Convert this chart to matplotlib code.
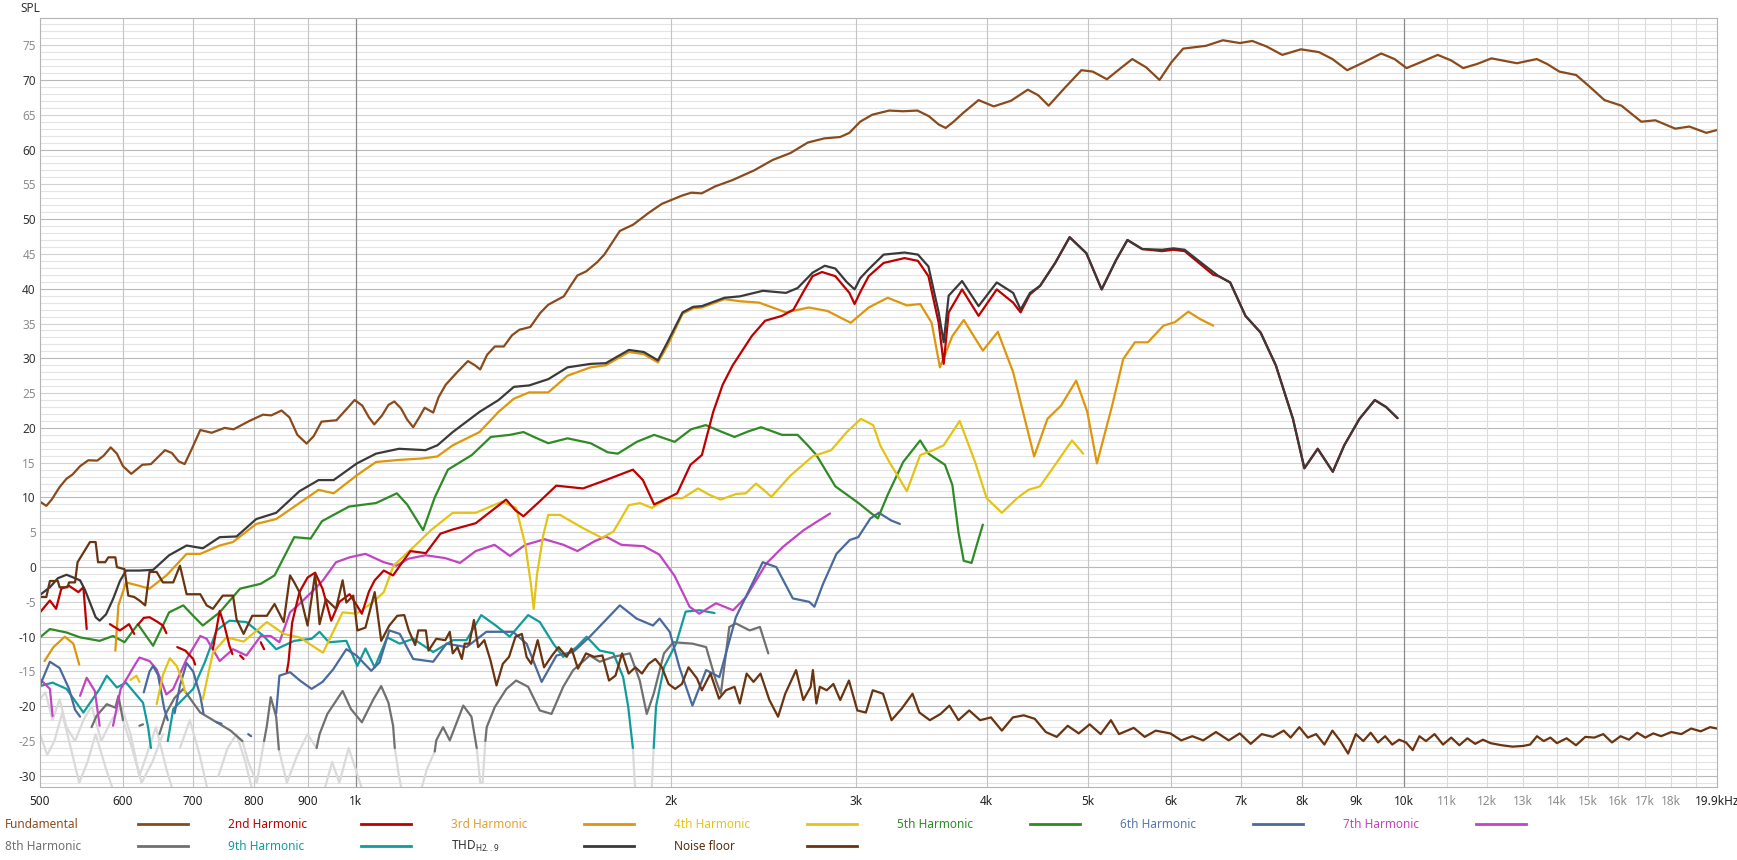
import numpy as np
import matplotlib.pyplot as plt
from matplotlib.lines import Line2D

nan = np.nan

# (frequency Hz, SPL dB) pairs
fundamental = [
    (500, 9.4), (507, 8.8), (513, 9.7), (522, 11.5), (530, 12.7), (537, 13.3), (546, 14.5),
    (556, 15.35), (567, 15.3), (575, 16.0), (584, 17.2), (592, 16.3), (600, 14.5), (611, 13.4),
    (626, 14.7), (638, 14.8), (648, 15.8), (658, 16.8), (668, 16.4), (678, 15.2), (687, 14.8),
    (698, 17.0), (711, 19.7), (729, 19.3), (750, 20.0), (765, 19.8), (792, 21.0), (816, 21.9),
    (831, 21.8), (850, 22.5), (865, 21.5), (880, 19.0), (898, 17.75), (912, 18.8), (928, 20.9),
    (959, 21.1), (975, 22.3), (998, 24.0), (1015, 23.2), (1030, 21.5), (1042, 20.5), (1060, 21.8),
    (1075, 23.3), (1089, 23.8), (1105, 22.8), (1120, 21.2), (1135, 20.1), (1150, 21.5),
    (1164, 22.9), (1186, 22.2), (1200, 24.4), (1219, 26.2), (1250, 28.0), (1280, 29.6),
    (1300, 29.0), (1315, 28.4), (1335, 30.5), (1358, 31.7), (1385, 31.7), (1410, 33.3),
    (1433, 34.1), (1468, 34.5), (1500, 36.5), (1527, 37.7), (1580, 38.9), (1605, 40.5),
    (1628, 41.9), (1660, 42.5), (1700, 43.8), (1727, 44.9), (1760, 46.8), (1787, 48.3),
    (1840, 49.2), (1904, 50.9), (1960, 52.2), (1990, 52.6), (2050, 53.4), (2091, 53.8),
    (2139, 53.7), (2203, 54.7), (2288, 55.6), (2400, 57.0), (2500, 58.5), (2600, 59.5),
    (2700, 61.0), (2800, 61.6), (2900, 61.8), (2959, 62.4), (3030, 64.0), (3111, 65.0),
    (3229, 65.6), (3331, 65.5), (3436, 65.6), (3523, 64.8), (3600, 63.6), (3656, 63.1),
    (3720, 64.0), (3795, 65.2), (3930, 67.1), (4063, 66.2), (4219, 67.0), (4379, 68.6),
    (4480, 67.8), (4584, 66.3), (4745, 68.8), (4926, 71.4), (5050, 71.2), (5210, 70.1),
    (5350, 71.5), (5508, 73.0), (5680, 71.8), (5848, 70.0), (6000, 72.5), (6160, 74.5),
    (6474, 74.9), (6721, 75.7), (6976, 75.3), (7170, 75.6), (7400, 74.8), (7658, 73.6),
    (7977, 74.4), (8299, 74.0), (8550, 73.0), (8831, 71.4), (9150, 72.5), (9517, 73.8),
    (9800, 73.0), (10062, 71.7), (10400, 72.6), (10775, 73.6), (11100, 72.8), (11394, 71.7),
    (11750, 72.3), (12126, 73.1), (12822, 72.4), (13392, 73.0), (13700, 72.3), (14075, 71.2),
    (14606, 70.7), (15000, 69.2), (15542, 67.1), (16133, 66.3), (16851, 64.0), (17378, 64.2),
    (18155, 63.0), (18726, 63.3), (19437, 62.4), (19900, 62.8),
]

thd = [
    (500, -4.0), (511, -2.9), (520, -1.6), (530, -1.1), (538, -1.5), (546, -1.9), (552, -3.3),
    (558, -5.1), (565, -7.2), (570, -7.7), (578, -6.8), (587, -4.6), (596, -2.0), (604, -0.5),
    (622, -0.5), (641, -0.4), (664, 1.7), (690, 3.1), (715, 2.7), (742, 4.3), (770, 4.4),
    (804, 6.9), (840, 7.8), (884, 10.9), (922, 12.5), (953, 12.5), (1003, 14.9), (1046, 16.3),
    (1100, 17.0), (1166, 16.8), (1197, 17.5), (1238, 19.4), (1313, 22.3), (1369, 24.0),
    (1416, 25.9), (1464, 26.1), (1527, 27.0), (1593, 28.7), (1676, 29.2), (1733, 29.3),
    (1823, 31.2), (1884, 30.9), (1943, 29.7), (1984, 32.3), (2051, 36.6), (2100, 37.4),
    (2140, 37.5), (2249, 38.7), (2326, 38.9), (2447, 39.7), (2574, 39.4), (2641, 40.1),
    (2729, 42.3), (2803, 43.3), (2869, 42.9), (2940, 41.0), (2993, 39.9), (3030, 41.5),
    (3087, 42.8), (3190, 44.9), (3340, 45.2), (3440, 44.9), (3520, 43.2), (3600, 36.6),
    (3640, 32.3), (3680, 39.0), (3790, 41.1), (3930, 37.5), (4090, 40.9), (4240, 39.4),
    (4310, 37.0), (4400, 39.4), (4498, 40.4), (4650, 43.7), (4800, 47.4), (4980, 45.1),
    (5150, 39.9), (5315, 44.1), (5450, 47.0), (5630, 45.7), (5880, 45.6), (6030, 45.8),
    (6180, 45.6), (6400, 43.8), (6580, 42.4), (6660, 41.8), (6830, 40.9), (7063, 36.1),
    (7302, 33.7), (7550, 29.0), (7840, 21.3), (8039, 14.2), (8278, 17.0), (8557, 13.7),
    (8775, 17.5), (9073, 21.3), (9384, 24.0), (9620, 23.0), (9865, 21.4),
]

h2 = [
    (500, -6.5), (511, -4.8), (518, -6.0), (524, -3.1), (533, -2.7), (544, -3.6), (550, -2.9),
    (554, -8.9), (nan, nan),
    (583, -8.2), (596, -9.1), (608, -8.2), (615, -9.6), (nan, nan),
    (620, -8.3), (628, -7.3), (636, -7.2), (646, -7.8), (655, -8.4), (660, -9.5), (nan, nan),
    (676, -11.5), (688, -12.0), (700, -13.2), (703, -14.0), (nan, nan),
    (731, -11.8), (742, -6.3), (750, -8.5), (758, -11.3), (763, -12.5), (nan, nan),
    (776, -12.7), (782, -13.2), (nan, nan), (812, -10.8), (818, -11.8), (nan, nan),
    (860, -15.0), (863, -13.7), (870, -8.0), (884, -3.6), (900, -1.5), (915, -0.8), (930, -3.1),
    (948, -7.7), (965, -5.0), (987, -3.9), (1000, -5.2), (1014, -6.7), (1030, -3.5),
    (1043, -1.9), (1064, -0.5), (1086, -1.2), (1100, 0.0), (1128, 2.3), (1167, 2.0),
    (1205, 4.8), (1238, 5.4), (1302, 6.3), (1392, 9.7), (1420, 8.2), (1446, 7.3), (1500, 9.5),
    (1554, 11.7), (1648, 11.3), (1733, 12.5), (1839, 14.0), (1880, 12.5), (1927, 9.0),
    (1984, 9.9), (2027, 10.6), (2087, 14.7), (2140, 16.1), (2194, 22.3), (2240, 26.2),
    (2289, 28.95), (2388, 33.2), (2459, 35.4), (2552, 36.1), (2617, 37.0), (2680, 39.8),
    (2729, 41.8), (2786, 42.4), (2869, 41.8), (2959, 39.4), (2993, 37.8), (3030, 39.5),
    (3087, 41.8), (3190, 43.7), (3340, 44.4), (3440, 44.0), (3520, 41.8), (3600, 35.1),
    (3640, 29.2), (3680, 36.6), (3790, 39.9), (3930, 36.1), (4090, 39.9), (4240, 38.0),
    (4310, 36.6), (4400, 39.2), (4498, 40.4), (4650, 43.7), (4800, 47.4), (4980, 45.1),
    (5150, 39.9), (5315, 44.1), (5450, 47.0), (5630, 45.7), (5880, 45.4), (6030, 45.6),
    (6180, 45.4), (6400, 43.5), (6580, 42.0), (6660, 41.8), (6830, 40.9), (7063, 36.1),
    (7302, 33.7), (7550, 29.0), (7840, 21.3), (8039, 14.2), (8278, 17.0), (8557, 13.7),
    (8775, 17.5), (9073, 21.3), (9384, 24.0), (9620, 23.0), (9865, 21.4),
]

h3 = [
    (505, -13.5), (515, -11.5), (528, -10.0), (538, -11.0), (545, -14.0), (nan, nan),
    (590, -12.0), (594, -5.5), (604, -2.2), (622, -2.7), (636, -3.1), (660, -1.2), (690, 1.9),
    (711, 1.9), (742, 3.1), (764, 3.6), (804, 6.2), (840, 6.9), (884, 9.2), (922, 11.1),
    (953, 10.6), (1003, 13.2), (1046, 15.1), (1100, 15.4), (1157, 15.6), (1197, 15.9),
    (1238, 17.5), (1313, 19.4), (1369, 22.3), (1416, 24.2), (1464, 25.1), (1527, 25.1),
    (1593, 27.5), (1676, 28.7), (1733, 29.0), (1823, 30.9), (1884, 30.6), (1943, 29.4),
    (1984, 31.8), (2051, 36.4), (2100, 37.2), (2140, 37.3), (2249, 38.5), (2326, 38.2),
    (2427, 38.0), (2574, 36.6), (2707, 37.3), (2820, 36.8), (2968, 35.1), (3087, 37.3),
    (3219, 38.7), (3357, 37.6), (3457, 37.8), (3545, 35.1), (3610, 28.7), (3710, 33.2),
    (3804, 35.5), (3967, 31.1), (4100, 33.8), (4240, 28.0), (4440, 15.9), (4572, 21.3),
    (4710, 23.2), (4870, 26.8), (4990, 22.3), (5097, 14.9), (5270, 23.2), (5400, 29.9),
    (5540, 32.3), (5700, 32.3), (5900, 34.7), (6050, 35.2), (6230, 36.7), (6400, 35.6),
    (6580, 34.7),
]

h4 = [
    (610, -16.2), (618, -15.6), (622, -16.5), (nan, nan),
    (646, -19.7), (655, -15.5), (665, -13.1), (675, -14.2), (683, -16.1), (688, -18.0), (nan, nan),
    (715, -19.0), (722, -16.0), (731, -12.3), (753, -10.1), (782, -10.7), (823, -7.9),
    (854, -9.6), (884, -10.1), (931, -12.3), (972, -6.5), (1002, -6.7), (1040, -5.0),
    (1064, -3.6), (1087, 0.2), (1140, 3.1), (1180, 5.3), (1238, 7.8), (1302, 7.8), (1380, 9.4),
    (1423, 8.5), (1452, 3.2), (1470, -2.5), (1479, -6.0), (1490, -1.0), (1510, 4.5),
    (1527, 7.5), (1567, 7.5), (1648, 5.6), (1718, 4.2), (1762, 5.1), (1823, 8.9), (1868, 9.2),
    (1917, 8.5), (1984, 9.9), (2051, 9.9), (2122, 11.3), (2174, 10.4), (2230, 9.7),
    (2307, 10.5), (2357, 10.6), (2410, 12.0), (2455, 11.0), (2493, 10.1), (2602, 13.2),
    (2729, 15.9), (2843, 16.8), (2942, 19.4), (3035, 21.3), (3118, 20.4), (3166, 17.5),
    (3233, 15.0), (3300, 12.8), (3357, 10.9), (3457, 16.1), (3558, 16.8), (3640, 17.5),
    (3770, 21.0), (3900, 15.1), (4000, 9.9), (4136, 7.8), (4277, 9.9), (4384, 11.1),
    (4498, 11.6), (4650, 14.7), (4825, 18.2), (4945, 16.3),
]

h5 = [
    (500, -10.1), (511, -8.9), (530, -9.4), (546, -10.1), (570, -10.6), (587, -9.9),
    (602, -10.8), (620, -8.2), (632, -10.0), (641, -11.3), (652, -9.0), (664, -6.5),
    (685, -5.5), (700, -7.0), (715, -8.4), (742, -6.5), (776, -3.1), (812, -2.4), (837, -1.2),
    (855, 1.5), (874, 4.3), (906, 4.1), (929, 6.6), (986, 8.7), (1046, 9.2), (1095, 10.6),
    (1120, 9.0), (1160, 5.3), (1190, 10.0), (1225, 14.0), (1291, 16.1), (1346, 18.7),
    (1404, 19.0), (1446, 19.4), (1490, 18.5), (1527, 17.8), (1593, 18.5), (1676, 17.8),
    (1740, 16.5), (1779, 16.3), (1855, 18.0), (1927, 19.0), (2016, 18.0), (2090, 19.8),
    (2158, 20.4), (2230, 19.5), (2299, 18.7), (2370, 19.5), (2437, 20.1), (2552, 19.0),
    (2641, 19.0), (2700, 17.5), (2752, 16.1), (2869, 11.6), (3019, 9.2), (3100, 7.8),
    (3150, 7.0), (3219, 10.4), (3330, 15.1), (3457, 18.2), (3520, 16.3), (3650, 14.7),
    (3710, 11.8), (3760, 5.0), (3804, 0.9), (3870, 0.6), (3920, 3.5), (3967, 6.1),
]

h6 = [
    (500, -17.0), (511, -13.6), (522, -14.5), (533, -17.5), (540, -20.5), (546, -21.5), (nan, nan),
    (628, -18.0), (636, -15.0), (641, -14.2), (648, -15.5), (657, -20.4), (662, -22.0), (nan, nan),
    (672, -21.0), (680, -17.0), (690, -13.8), (700, -15.0), (711, -18.5), (716, -21.0), (nan, nan),
    (737, -22.3), (745, -22.5), (nan, nan), (790, -24.0), (795, -24.3), (nan, nan),
    (840, -21.0), (846, -15.6), (866, -15.1), (885, -16.3), (908, -17.5), (930, -16.5),
    (952, -14.7), (980, -11.8), (1002, -12.7), (1035, -14.9), (1054, -13.7), (1077, -9.1),
    (1102, -9.6), (1135, -13.2), (1186, -13.6), (1221, -11.0), (1276, -11.5), (1333, -9.3),
    (1413, -9.3), (1456, -11.0), (1505, -16.5), (1555, -12.7), (1613, -12.2), (1673, -10.0),
    (1787, -5.5), (1854, -7.4), (1922, -8.4), (1950, -7.4), (1994, -9.3), (2037, -14.4),
    (2096, -19.9), (2160, -14.8), (2224, -15.8), (2306, -7.2), (2446, 0.7), (2520, 0.0),
    (2613, -4.5), (2710, -5.0), (2740, -5.7), (2793, -2.4), (2876, 1.9), (2962, 3.9),
    (3017, 4.3), (3099, 7.0), (3157, 7.8), (3243, 6.7), (3306, 6.2),
]

h7 = [
    (500, -16.1), (511, -17.5), (514, -21.4), (nan, nan),
    (546, -18.5), (554, -15.9), (564, -17.8), (570, -22.8), (nan, nan),
    (587, -22.8), (597, -17.5), (615, -14.2), (622, -13.0), (636, -13.5), (646, -14.7),
    (660, -18.3), (670, -17.5), (690, -13.2), (711, -9.9), (721, -10.3), (742, -13.5),
    (764, -11.8), (787, -12.7), (812, -9.9), (830, -9.9), (846, -10.8), (866, -6.5),
    (884, -5.3), (908, -3.6), (931, -1.9), (958, 0.7), (987, 1.4), (1022, 1.9), (1064, 0.7),
    (1094, 0.2), (1123, 1.2), (1166, 1.7), (1217, 1.3), (1258, 0.6), (1302, 2.3), (1357, 3.2),
    (1404, 1.6), (1452, 3.2), (1515, 4.0), (1579, 3.2), (1628, 2.3), (1690, 3.7), (1733, 4.4),
    (1793, 3.2), (1884, 3.0), (1949, 1.8), (2016, -1.3), (2083, -5.7), (2128, -6.7),
    (2207, -5.2), (2292, -6.2), (2358, -4.3), (2465, 0.5), (2557, 2.9), (2676, 5.3),
    (2754, 6.5), (2836, 7.7),
]

h8 = [
    (560, -23.0), (566, -21.4), (579, -19.7), (590, -20.2), (594, -18.5), (600, -22.0), (nan, nan),
    (622, -22.8), (627, -22.6), (nan, nan),
    (650, -24.0), (660, -20.9), (672, -18.8), (685, -17.5), (700, -19.5), (711, -20.9),
    (737, -22.3), (760, -23.5), (780, -25.0), (nan, nan),
    (818, -25.0), (823, -22.8), (830, -18.7), (840, -21.5), (845, -26.2), (nan, nan),
    (918, -26.0), (924, -24.0), (940, -21.1), (972, -17.8), (990, -20.4), (1014, -22.3),
    (1040, -19.0), (1058, -17.1), (1075, -19.5), (1086, -22.8), (1090, -26.0), (nan, nan),
    (1190, -26.5), (1194, -24.9), (1212, -23.0), (1230, -24.9), (1267, -19.9), (1290, -21.5),
    (1305, -26.0), (nan, nan),
    (1330, -25.0), (1334, -23.0), (1358, -20.1), (1393, -17.5), (1423, -16.3), (1461, -17.2),
    (1499, -20.6), (1538, -21.1), (1578, -17.2), (1613, -14.8), (1673, -12.7), (1710, -13.6),
    (1762, -12.9), (1827, -12.4), (1867, -16.3), (1896, -21.1), (1925, -18.2), (1969, -12.4),
    (2010, -10.8), (2096, -11.0), (2160, -11.5), (2207, -16.3), (2231, -18.2), (2273, -8.6),
    (2306, -8.1), (2377, -9.1), (2431, -8.6), (2476, -12.4),
]

h9 = [
    (500, -17.1), (514, -16.6), (530, -17.5), (550, -20.9), (570, -17.5), (579, -15.6),
    (592, -17.3), (604, -16.6), (627, -19.5), (634, -23.0), (638, -26.0), (nan, nan),
    (662, -25.0), (670, -20.4), (700, -17.5), (718, -13.7), (737, -9.1), (758, -7.7),
    (787, -7.9), (817, -9.9), (840, -11.8), (874, -10.6), (908, -10.3), (924, -9.3),
    (943, -10.8), (980, -10.6), (1004, -14.2), (1022, -11.7), (1043, -14.4), (1072, -10.1),
    (1102, -11.0), (1135, -10.3), (1186, -12.2), (1239, -10.5), (1276, -10.5), (1318, -6.9),
    (1361, -8.4), (1403, -10.0), (1461, -6.9), (1499, -7.9), (1544, -11.0), (1578, -12.9),
    (1625, -11.5), (1661, -10.0), (1710, -12.0), (1762, -12.4), (1800, -15.8), (1820, -20.0),
    (1839, -26.0), (nan, nan),
    (1925, -26.0), (1935, -20.0), (1969, -14.4), (2022, -11.0), (2065, -6.4), (2128, -6.2),
    (2200, -6.6),
]

noise_floor = [
    (500, -4.3), (507, -4.3), (511, -2.0), (520, -2.0), (522, -2.9), (531, -2.9), (533, -2.2),
    (540, -2.2), (543, 0.7), (558, 3.6), (565, 3.6), (568, 0.7), (577, 0.7), (581, 1.4),
    (590, 1.4), (592, 0.0), (602, -0.3), (607, -4.1), (615, -4.3), (622, -4.8), (630, -5.5),
    (636, -0.7), (646, -0.7), (655, -2.2), (670, -2.2), (680, 0.2), (690, -3.9), (711, -3.9),
    (721, -5.5), (731, -6.0), (747, -4.1), (764, -4.1), (770, -7.5), (782, -9.6), (797, -7.0),
    (823, -7.0), (837, -5.3), (854, -7.9), (866, -1.2), (874, -2.2), (884, -3.6), (900, -8.4),
    (915, -1.0), (924, -8.2), (937, -4.6), (958, -6.0), (972, -1.9), (980, -5.1), (995, -4.1),
    (1004, -9.1), (1022, -8.7), (1043, -3.6), (1058, -10.6), (1077, -8.4), (1096, -7.0),
    (1113, -6.9), (1124, -9.1), (1140, -11.2), (1148, -9.1), (1167, -9.1), (1174, -12.0),
    (1194, -10.3), (1218, -10.5), (1230, -9.3), (1238, -12.4), (1251, -11.5), (1263, -13.2),
    (1271, -11.0), (1284, -11.0), (1297, -7.6), (1309, -11.5), (1327, -10.5), (1345, -13.4),
    (1363, -17.0), (1382, -13.9), (1401, -12.9), (1421, -10.0), (1441, -9.6), (1456, -12.9),
    (1471, -13.9), (1492, -10.5), (1513, -14.4), (1540, -12.7), (1562, -11.5), (1590, -12.9),
    (1607, -11.7), (1630, -14.6), (1659, -12.4), (1689, -12.9), (1720, -12.7), (1745, -16.3),
    (1770, -15.6), (1796, -12.4), (1822, -15.3), (1849, -14.4), (1876, -15.3), (1904, -13.9),
    (1932, -13.2), (1960, -14.4), (1989, -16.8), (2018, -17.5), (2048, -16.8), (2078, -14.4),
    (2117, -16.0), (2140, -17.7), (2181, -15.3), (2222, -18.9), (2256, -17.7), (2299, -17.2),
    (2326, -19.6), (2361, -15.3), (2397, -16.5), (2434, -15.3), (2482, -19.1), (2530, -21.5),
    (2570, -18.2), (2632, -14.8), (2674, -19.1), (2718, -17.2), (2731, -14.8), (2752, -19.6),
    (2773, -17.2), (2815, -17.7), (2857, -16.8), (2900, -19.1), (2956, -16.3), (3011, -20.6),
    (3068, -20.9), (3115, -17.7), (3186, -18.2), (3246, -22.0), (3321, -20.3), (3399, -18.2),
    (3451, -20.9), (3531, -22.0), (3615, -21.1), (3686, -19.9), (3760, -22.0), (3850, -20.6),
    (3943, -22.0), (4038, -21.6), (4136, -23.5), (4237, -21.6), (4340, -21.3), (4446, -21.8),
    (4555, -23.7), (4666, -24.4), (4780, -22.8), (4897, -23.9), (5016, -22.6), (5139, -24.0),
    (5256, -22.0), (5350, -24.0), (5526, -23.1), (5661, -24.4), (5800, -23.5), (5988, -23.9),
    (6134, -24.9), (6284, -24.3), (6437, -24.9), (6620, -23.7), (6808, -24.9), (6975, -23.9),
    (7145, -25.4), (7320, -24.0), (7499, -24.4), (7682, -23.5), (7800, -24.5), (7950, -23.0),
    (8100, -24.5), (8250, -24.0), (8400, -25.5), (8550, -23.5), (8700, -25.0), (8850, -26.8),
    (9000, -24.0), (9150, -25.0), (9300, -23.8), (9450, -25.2), (9600, -24.3), (9750, -25.5),
    (9900, -24.8), (10050, -25.2), (10200, -26.3), (10350, -24.3), (10500, -25.0),
    (10700, -24.0), (10900, -25.5), (11100, -24.5), (11300, -25.6), (11500, -24.6),
    (11700, -25.4), (11900, -24.8), (12100, -25.3), (12400, -25.6), (12700, -25.8),
    (13000, -25.7), (13200, -25.5), (13400, -24.3), (13600, -25.0), (13800, -24.5),
    (14000, -25.3), (14300, -24.6), (14600, -25.6), (14900, -24.4), (15200, -24.5),
    (15500, -24.0), (15800, -25.2), (16100, -24.3), (16400, -24.8), (16700, -23.8),
    (17000, -24.5), (17300, -23.9), (17600, -24.3), (18000, -23.7), (18400, -24.0),
    (18800, -23.2), (19200, -23.6), (19600, -23.0), (19900, -23.2),
]

# harmonic traces below the display threshold, drawn faded
faded = [
    (500, -24), (508, -27), (516, -25), (525, -21), (535, -26), (545, -31), (555, -28),
    (565, -24), (578, -29), (590, -33), (nan, nan),
    (500, -19), (506, -18), (514, -22), (522, -19), (530, -23), (540, -25), (550, -22),
    (560, -20), (572, -25), (585, -22), (598, -20), (610, -24), (622, -30), (632, -27),
    (645, -23), (660, -29), (672, -33), (nan, nan),
    (600, -22), (612, -26), (625, -31), (640, -28), (655, -24), (nan, nan),
    (680, -26), (695, -22), (710, -27), (725, -33), (nan, nan),
    (740, -30), (755, -26), (770, -24), (785, -28), (800, -33), (nan, nan),
    (780, -25), (790, -28), (805, -31), (818, -25), (nan, nan),
    (845, -26.2), (860, -31), (880, -27), (900, -24), (918, -26), (nan, nan),
    (930, -33), (950, -28), (965, -31), (985, -26), (1000, -29), (1020, -33), (nan, nan),
    (1090, -26), (1100, -30), (1110, -33), (nan, nan),
    (1150, -33), (1170, -29), (1190, -26.5), (nan, nan),
    (1305, -26), (1315, -31), (1322, -31), (1330, -25), (nan, nan),
    (1839, -26), (1850, -33), (nan, nan), (1915, -33), (1925, -26),
]

series = [
    ('faded', faded, '#dadada'),
    ('9th Harmonic', h9, '#119c9c'),
    ('8th Harmonic', h8, '#707070'),
    ('7th Harmonic', h7, '#c244c2'),
    ('6th Harmonic', h6, '#4a6a9e'),
    ('5th Harmonic', h5, '#2e8b26'),
    ('4th Harmonic', h4, '#e3c416'),
    ('3rd Harmonic', h3, '#df960c'),
    ('2nd Harmonic', h2, '#bf0000'),
    ('THD', thd, '#3a3a3a'),
    ('Noise floor', noise_floor, '#6a3410'),
    ('Fundamental', fundamental, '#8b4a1c'),
]
colors = {name: c for name, _, c in series}

plt.rcParams['font.family'] = ['Noto Sans', 'DejaVu Sans']

W, H = 1737, 860
fig = plt.figure(figsize=(W / 100, H / 100), dpi=100)
ax = fig.add_axes([40 / W, (H - 787) / H, (1717 - 40) / W, (787 - 18) / H])
ax.set_xscale('log')
ax.set_xlim(500, 19900)
ax.set_ylim(-31.6, 78.9)

# grid
for v in range(-31, 79):
    if v % 10 == 0:
        c = '#b8b8b8'
    elif v % 5 == 0:
        c = '#d2d2d2'
    else:
        c = '#e4e4e4'
    ax.axhline(v, color=c, lw=0.8, zorder=0)
vgrid = [600, 700, 800, 900, 2000, 3000, 4000, 5000, 6000, 7000, 8000, 9000]
for f in vgrid:
    ax.axvline(f, color='#c4c4c4', lw=0.8, zorder=0)
for f in [1000, 10000]:
    ax.axvline(f, color='#8a8a8a', lw=0.9, zorder=0)
for f in range(11000, 20000, 1000):
    ax.axvline(f, color='#dcdcdc', lw=0.8, zorder=0)

for sp in ax.spines.values():
    sp.set_color('#b4b4b4')
    sp.set_linewidth(0.8)

for name, pts, c in series:
    a = np.array(pts, dtype=float)
    ax.plot(a[:, 0], a[:, 1], color=c, lw=1.6, solid_capstyle='round',
            solid_joinstyle='round', zorder=2)

# ticks
yt = list(range(-30, 80, 5))
ax.set_yticks(yt)
ax.set_yticklabels([str(v) for v in yt])
for v, lbl in zip(yt, ax.get_yticklabels()):
    lbl.set_color('#333333' if v % 10 == 0 else '#8c8c8c')
xt = [500, 600, 700, 800, 900, 1000, 2000, 3000, 4000, 5000, 6000, 7000, 8000, 9000, 10000,
      11000, 12000, 13000, 14000, 15000, 16000, 17000, 18000, 19900]
xl = ['500', '600', '700', '800', '900', '1k', '2k', '3k', '4k', '5k', '6k', '7k', '8k', '9k',
      '10k', '11k', '12k', '13k', '14k', '15k', '16k', '17k', '18k', '19.9kHz']
ax.set_xticks(xt)
ax.set_xticklabels(xl)
ax.xaxis.set_minor_locator(plt.NullLocator())
for f, lbl in zip(xt, ax.get_xticklabels()):
    lbl.set_color('#8c8c8c' if 11000 <= f <= 18000 else '#222222')
ax.tick_params(axis='both', length=0, labelsize=8.5)
ax.tick_params(axis='x', pad=6)
ax.tick_params(axis='y', pad=3)

fig.text(20 / W, 1 - 9 / H, 'SPL', fontsize=8.5, color='#333333', va='center', ha='left')

# legend below the plot
legend = [
    ('Fundamental', colors['Fundamental'], '#8b4a1c'),
    ('2nd Harmonic', colors['2nd Harmonic'], '#bf0000'),
    ('3rd Harmonic', colors['3rd Harmonic'], '#e0a030'),
    ('4th Harmonic', colors['4th Harmonic'], '#e3c416'),
    ('5th Harmonic', colors['5th Harmonic'], '#2e8b26'),
    ('6th Harmonic', colors['6th Harmonic'], '#5a78a8'),
    ('7th Harmonic', colors['7th Harmonic'], '#c244c2'),
    ('8th Harmonic', colors['8th Harmonic'], '#707070'),
    ('9th Harmonic', colors['9th Harmonic'], '#119c9c'),
    (r'THD$_{\mathregular{H2..9}}$', colors['THD'], '#333333'),
    ('Noise floor', colors['Noise floor'], '#5a2d0c'),
]
for i, (label, lc, tc) in enumerate(legend):
    row, col = divmod(i, 7)
    x0 = 5 + col * 223
    y = 1 - (824 + row * 22) / H
    fig.text(x0 / W, y, label, color=tc, fontsize=8.5, va='center', ha='left')
    fig.add_artist(Line2D([(x0 + 133) / W, (x0 + 183) / W], [y, y],
                          transform=fig.transFigure, color=lc, lw=2))

fig.savefig('out.png', dpi=100, facecolor='white')
